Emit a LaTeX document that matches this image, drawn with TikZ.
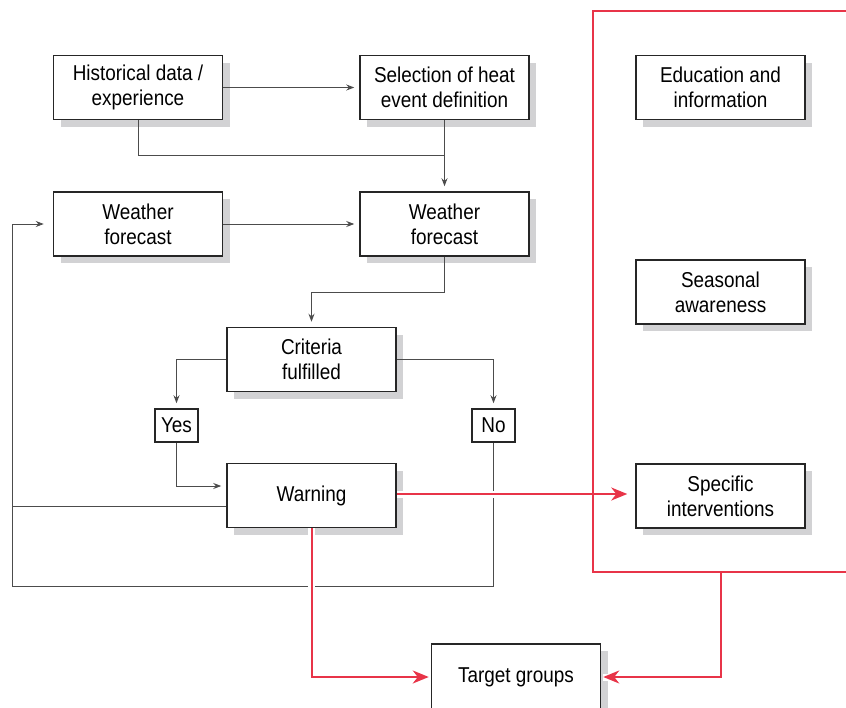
\documentclass[tikz,border=0pt]{standalone}
\usepackage{fontspec}
\setmainfont{Liberation Sans}[FakeStretch=0.88]
\usetikzlibrary{arrows.meta,shadows}
\definecolor{redline}{RGB}{232,52,72}
\definecolor{shadowgray}{RGB}{210,210,212}
\begin{document}
\begin{tikzpicture}[x=1pt,y=-1pt,
  box/.style={draw=black!85, line width=1.5pt, fill=white, minimum width=169pt, minimum height=64pt,
    align=center, inner sep=2pt, font=\fontsize{21.5}{25}\selectfont,
    general shadow={fill=shadowgray, shadow xshift=7pt, shadow yshift=-7pt}},
  small/.style={draw=black!85, line width=1.5pt, fill=white, minimum width=43pt, minimum height=33pt,
    inner sep=1pt, font=\fontsize{21.5}{25}\selectfont},
  conn/.style={draw=black!70, line width=0.9pt},
  arr/.style={conn, -{Stealth[length=8pt,width=6pt]}, shorten >=5pt},
  redc/.style={draw=redline, line width=2pt, preaction={draw=white, line width=7pt, -}},
  redarr/.style={redc, -{Stealth[length=16pt,width=13pt,inset=5pt]}, shorten >=2pt},
  frame/.style={draw=redline, line width=2pt}
]
\useasboundingbox (0,0) rectangle (846,707);
\clip (0,0) rectangle (846,707);

% nodes
\node[box] (hist) at (138,87.5) {Historical data /\\experience};
\node[box] (sel) at (444.5,87.5) {Selection of heat\\event definition};
\node[box] (wfa) at (138,224) {Weather\\forecast};
\node[box] (wfb) at (444.5,224) {Weather\\forecast};
\node[box] (crit) at (311.5,359.5) {Criteria\\fulfilled};
\node[small] (yes) at (176.5,425.5) {Yes};
\node[small] (no) at (493.5,425.5) {No};
\node[box] (warn) at (311.5,495.5) {Warning};
\node[box, minimum height=70pt] (target) at (516,679) {\raisebox{8pt}{Target groups}};
\node[box] (edu) at (720.5,87.5) {Education and\\information};
\node[box] (seas) at (720.5,292) {Seasonal\\awareness};
\node[box] (spec) at (720.5,496) {Specific\\interventions};

\coordinate (loopL) at (12,506);
\coordinate (noL) at (12,586);
\coordinate (fbot) at (721,572);
\coordinate (ftl) at (593,11);
\coordinate (fbl) at (593,572);
\coordinate (ftr) at (850,11);
\coordinate (fbr) at (850,572);

% black connectors
\draw[arr] (hist.east) -- (sel.west);
\draw[conn] (hist.south) |- (sel.south |- 0,155);
\draw[arr] (sel.south) -- (wfb.north);
\draw[arr] (wfa.east) -- (wfb.west);
\draw[arr] (wfb.south) -- (wfb.south |- 0,292) -| (crit.north);
\draw[arr] (crit.west) -| (yes.north);
\draw[arr] (crit.east) -| (no.north);
\draw[arr] (yes.south) |- ([yshift=9.5pt]warn.west);
\draw[arr, shorten >=9pt] ([yshift=-10.5pt]warn.west) -- (loopL) |- (wfa.west);
\draw[conn] (no.south) |- (noL) -- (loopL);

% red connectors
\draw[redarr, shorten >=8pt] ([yshift=1.5pt]warn.east) -- (spec.west |- 0,494);
\draw[redarr] (warn.south) |- (target.west |- 0,677);
\draw[redarr] (fbot) |- (target.east |- 0,677);

% red frame
\draw[frame] (ftr) -- (ftl) -- (fbl) -- (fbr);
\end{tikzpicture}
\end{document}
